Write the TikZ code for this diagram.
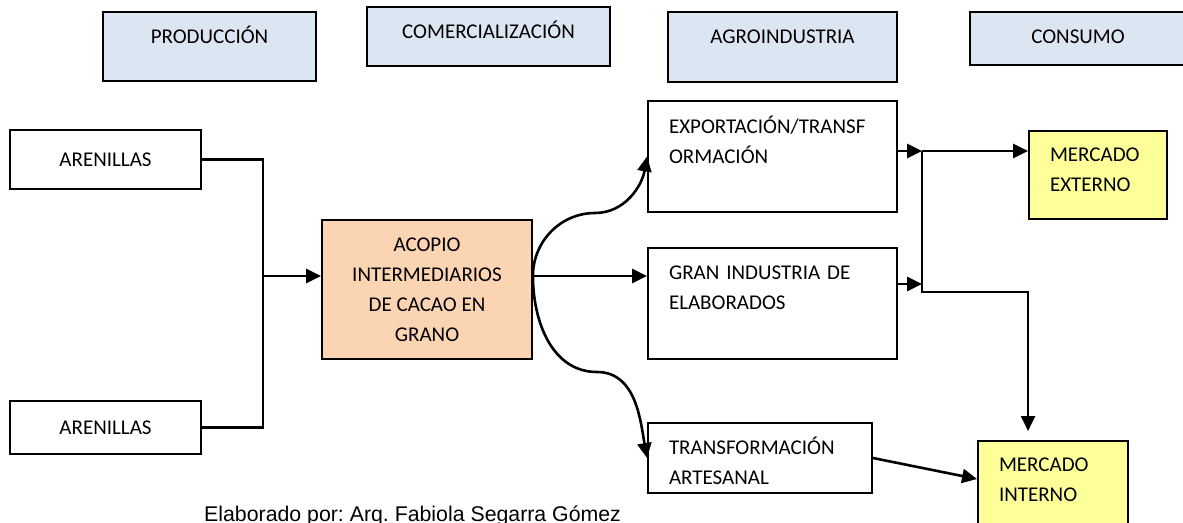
\documentclass[tikz,border=0pt]{standalone}
\usepackage{fontspec}
\setmainfont{Carlito}
\newfontfamily\capfont{Liberation Sans}
\usetikzlibrary{arrows.meta,calc}
\definecolor{headblue}{RGB}{220,230,242}
\definecolor{peach}{RGB}{251,212,180}
\definecolor{lightyel}{RGB}{255,255,153}
\tikzset{
  >={Triangle[length=15pt,width=14pt]},
  box/.style={draw,line width=1.9pt,fill=white,inner sep=0pt,font=\fontsize{21}{30}\selectfont},
  head/.style={box,fill=headblue,align=center},
  hub/.style={box,fill=peach,align=center},
  lbox/.style={box,align=left,inner xsep=21pt,inner ysep=0pt},
  mkt/.style={lbox,fill=lightyel},
  conn/.style={line width=2.6pt}
}
\begin{document}
\begin{tikzpicture}[x=1pt,y=-1pt]
\useasboundingbox (0,0) rectangle (1183,522);
% stage headers
\node[head,minimum width=213pt,text height=31.75pt,text depth=37.25pt](prod) at (209.5,46.5){PRODUCCIÓN};
\node[head,minimum width=243pt,text height=31.75pt,text depth=27.25pt](comer) at (488.5,36.5){COMERCIALIZACIÓN};
\node[head,minimum width=229pt,text height=31.75pt,text depth=38.25pt](agro) at (782.5,47){AGROINDUSTRIA};
\node[head,minimum width=216pt,text height=31.75pt,text depth=21.25pt](cons) at (1078,38.5){CONSUMO};
% chain
\node[box,minimum width=191pt,minimum height=59pt](aren1) at (105.5,159.5){ARENILLAS};
\node[box,minimum width=191pt,minimum height=53pt](aren2) at (105.5,427.5){ARENILLAS};
\node[hub,minimum width=210pt,minimum height=139pt](acopio) at (427,289.5){ACOPIO\\INTERMEDIARIOS\\DE CACAO EN\\GRANO};
\node[lbox,text width=207pt,text height=32.75pt,text depth=78.25pt](expo) at (772.5,156.5){EXPORTACIÓN/TRANSF\\ORMACIÓN};
\node[lbox,text width=207pt,text height=31.75pt,text depth=79.25pt](gran) at (772.5,303.5){GRAN INDUSTRIA DE\\ELABORADOS};
\node[lbox,text width=182pt,text height=31.75pt,text depth=38.25pt](artes) at (760,458){TRANSFORMACIÓN\\ARTESANAL};
\node[mkt,text width=96pt,text height=30.75pt,text depth=57.25pt](mext) at (1098,175){MERCADO\\EXTERNO};
\node[mkt,text width=108pt,text height=30.75pt,text depth=58.25pt](mint) at (1053,485.5){MERCADO\\INTERNO};
\node[font=\capfont\fontsize{21.3}{25}\selectfont\frenchspacing,anchor=base west,inner sep=0pt](credit) at (204,521){Elaborado por: Arq. Fabiola Segarra Gómez};
% junctions and bends
\coordinate (jp) at (263,276);
\coordinate (bu) at (595,213);
\coordinate (bd) at (597,372);
\coordinate (jx) at (922,151);
\coordinate (jg) at (922,284);
\coordinate (jb) at (922,292);
\draw[conn](aren1.east) -| (jp) |- (aren2.east);
\draw[conn,->](jp) -- (acopio.west|-jp);
\draw[conn,->](acopio.east|-jp) -- (gran.west|-jp);
\draw[conn,->](acopio.east|-jp) to[out=90,in=180] (bu) to[out=0,in=-100] (expo.west);
\draw[conn,->](acopio.east|-jp) to[out=-90,in=180] (bd) to[out=0,in=100] (artes.west);
\draw[conn,->](expo.east|-jx) -- (jx);
\draw[conn,->](gran.east|-jg) -- (jg);
\draw[conn,->](jx) -- (mext.west|-jx);
\draw[conn,->,shorten >=9pt](jx) -- (jb) -| (mext.west|-mint.north);
\draw[conn,->](artes.east) -- ([yshift=6.5pt]mint.west);
\end{tikzpicture}
\end{document}
